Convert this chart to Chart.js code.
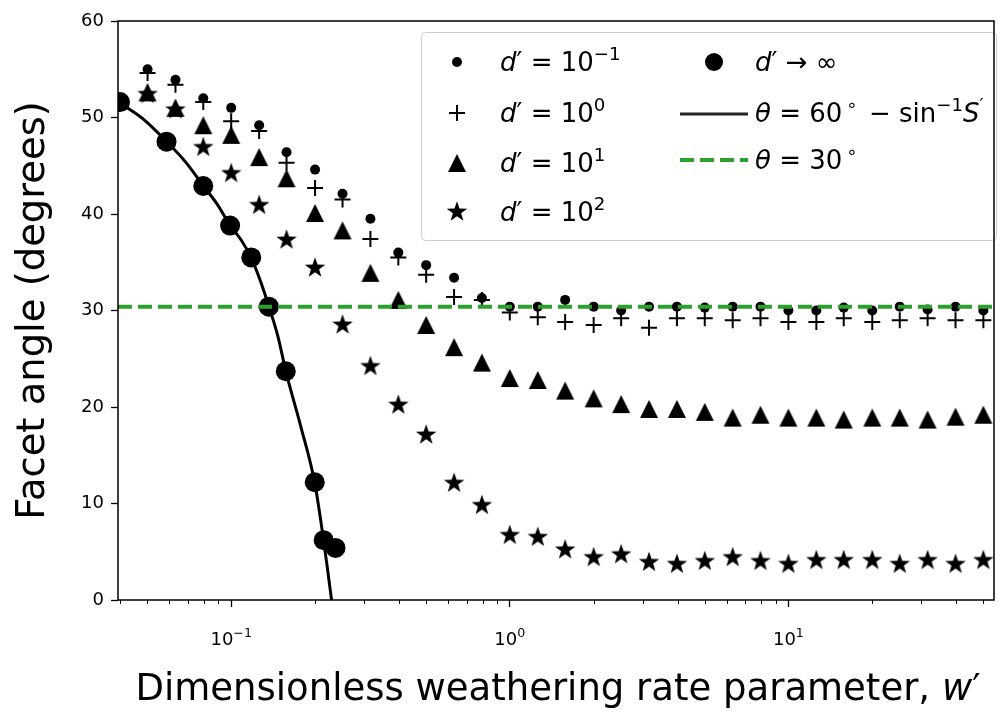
<!DOCTYPE html>
<html>
<head>
<meta charset="utf-8">
<title>Facet angle vs weathering rate</title>
<script src="https://cdn.jsdelivr.net/npm/chart.js@4.4.1/dist/chart.umd.min.js"></script>
<style>
  html, body { margin: 0; padding: 0; background: #ffffff; overflow: hidden; }
  .chart-box { width: 1005px; height: 713px; }
</style>
</head>
<body>
<div class="chart-box"><canvas class="facetChart" width="1005" height="713"></canvas></div>
<script>
// dimensionless weathering rate w' of the numerical runs
const wPrime = [0.0501, 0.0631, 0.0794, 0.1, 0.126, 0.158, 0.2, 0.251, 0.316, 0.398, 0.501,
  0.631, 0.794, 1, 1.26, 1.58, 2, 2.51, 3.16, 3.98, 5.01, 6.31, 7.94, 10, 12.6, 15.8, 20,
  25.1, 31.6, 39.8, 50.1];

// facet angle (degrees) for each d'
const thetaD01 = [55.0, 53.9, 52.0, 51.0, 49.2, 46.4, 44.6, 42.1, 39.5, 36.0, 34.7, 33.4, 31.3,
  30.4, 30.4, 31.1, 30.4, 30.0, 30.4, 30.4, 30.3, 30.4, 30.4, 30.0, 30.0, 30.3, 30.0, 30.4,
  30.1, 30.4, 30.0];
const thetaD1 = [54.6, 53.4, 51.6, 49.6, 48.6, 45.3, 42.7, 41.5, 37.4, 35.5, 33.7, 31.4, 31.1,
  29.8, 29.3, 28.8, 28.5, 29.2, 28.2, 29.2, 29.2, 29.0, 29.2, 28.8, 28.8, 29.2, 28.8, 29.0,
  29.2, 29.0, 29.0];
const thetaD10 = [52.6, 51.0, 49.2, 48.2, 45.9, 43.7, 40.1, 38.3, 33.9, 31.1, 28.5, 26.2, 24.6,
  23.0, 22.8, 21.7, 20.9, 20.3, 19.8, 19.8, 19.5, 18.9, 19.2, 18.9, 18.9, 18.7, 18.9, 18.9,
  18.7, 19.0, 19.2];
const thetaD100 = [52.4, 50.8, 46.9, 44.2, 40.9, 37.3, 34.4, 28.5, 24.2, 20.2, 17.1, 12.1, 9.8,
  6.7, 6.5, 5.2, 4.4, 4.7, 3.9, 3.7, 4.0, 4.4, 4.0, 3.7, 4.1, 4.1, 4.1, 3.7, 4.1, 3.7, 4.1];

// d' -> infinity
const wInf = [0.0399, 0.0586, 0.0794, 0.0991, 0.118, 0.1365, 0.157, 0.1995, 0.2148, 0.2368];
const thetaInf = [51.6, 47.5, 42.9, 38.8, 35.5, 30.4, 23.7, 12.2, 6.2, 5.4];

// theta = 60 - asin(S')
const curveW = [0.03924, 0.03988, 0.04895, 0.05866, 0.06855, 0.07947, 0.08916, 0.09918, 0.1086,
  0.1178, 0.1279, 0.1366, 0.1472, 0.1571, 0.1777, 0.1993, 0.2146, 0.2217, 0.2292];
const curveTheta = [51.8, 51.6, 49.7, 47.5, 45.4, 42.9, 41.0, 38.8, 37.3, 35.5, 32.9, 30.4,
  27.3, 23.7, 18.0, 12.2, 6.2, 3.2, 0];

// theta = 30 reference line
const refW = [0.03924, 54.7];
const refTheta = [30.4, 30.4];

const xMin = 0.03924, xMax = 54.7;
const xMajorTicks = [0.1, 1, 10];
const xMajorLabels = ['−1', '0', '1'];
const xMinorTicks = [0.04, 0.05, 0.06, 0.07, 0.08, 0.09, 0.2, 0.3, 0.4, 0.5, 0.6, 0.7, 0.8, 0.9,
  2, 3, 4, 5, 6, 7, 8, 9, 20, 30, 40, 50];
const yTicks = [0, 10, 20, 30, 40, 50, 60];

const FONT = '"DejaVu Sans", "Liberation Sans", sans-serif';

function pts(xs, ys) {
  return xs.map((x, i) => ({ x: x, y: ys[i] }));
}

function markerCanvas(size, draw) {
  const c = document.createElement('canvas');
  c.width = size;
  c.height = size;
  const g = c.getContext('2d');
  g.translate(size / 2, size / 2);
  g.fillStyle = '#000';
  draw(g);
  return c;
}

const triMarker = markerCanvas(22, g => {
  g.beginPath();
  g.moveTo(0, -9);
  g.lineTo(9, 9);
  g.lineTo(-9, 9);
  g.closePath();
  g.fill();
});

const starMarker = markerCanvas(24, g => {
  g.beginPath();
  for (let i = 0; i < 10; i++) {
    const r = i % 2 ? 4.3 : 10.8;
    const a = -Math.PI / 2 + i * Math.PI / 5;
    g.lineTo(r * Math.cos(a), r * Math.sin(a));
  }
  g.closePath();
  g.fill();
});

// small mathtext-like renderer: runs of {t, it, sup}
function runFont(r, size) {
  const s = r.sup ? size * 0.7 : size;
  return (r.it ? 'italic ' : '') + s + 'px ' + FONT;
}
function runsWidth(ctx, runs, size) {
  let w = 0;
  runs.forEach(r => {
    ctx.font = runFont(r, size);
    w += ctx.measureText(r.t).width + (r.dx || 0);
  });
  return w;
}
function drawRuns(ctx, runs, x, y, size, align) {
  let cx = align === 'center' ? x - runsWidth(ctx, runs, size) / 2 : x;
  ctx.textBaseline = 'alphabetic';
  ctx.textAlign = 'left';
  runs.forEach(r => {
    cx += r.dx || 0;
    ctx.font = runFont(r, size);
    ctx.fillText(r.t, cx, y - (r.sup ? size * 0.42 : 0));
    cx += ctx.measureText(r.t).width;
  });
}

const extrasPlugin = {
  id: 'extras',
  afterDatasetsDraw(chart) {
    const ctx = chart.ctx;
    ctx.save();
    // legend box
    ctx.beginPath();
    ctx.roundRect(421.5, 32.5, 575, 208, 4);
    ctx.fillStyle = 'rgba(255,255,255,0.8)';
    ctx.fill();
    ctx.strokeStyle = '#cccccc';
    ctx.lineWidth = 1;
    ctx.stroke();

    ctx.fillStyle = '#000';
    const rows = [62, 113, 163, 212];
    // column 1 handles
    ctx.beginPath(); ctx.arc(457, rows[0], 5, 0, Math.PI * 2); ctx.fill();
    ctx.strokeStyle = '#000';
    ctx.lineWidth = 2;
    ctx.beginPath();
    ctx.moveTo(449, rows[1]); ctx.lineTo(465, rows[1]);
    ctx.moveTo(457, rows[1] - 8); ctx.lineTo(457, rows[1] + 8);
    ctx.stroke();
    ctx.drawImage(triMarker, 457 - 11, rows[2] - 11);
    ctx.drawImage(starMarker, 457 - 12, rows[3] - 12);

    const ls = 26;
    const eq = { t: ' = 10' };
    drawRuns(ctx, [{ t: 'd', it: true }, { t: '′' }, eq, { t: '−1', sup: true }], 500, rows[0] + 9, ls);
    drawRuns(ctx, [{ t: 'd', it: true }, { t: '′' }, eq, { t: '0', sup: true }], 500, rows[1] + 9, ls);
    drawRuns(ctx, [{ t: 'd', it: true }, { t: '′' }, eq, { t: '1', sup: true }], 500, rows[2] + 9, ls);
    drawRuns(ctx, [{ t: 'd', it: true }, { t: '′' }, eq, { t: '2', sup: true }], 500, rows[3] + 9, ls);

    // column 2 handles
    ctx.beginPath(); ctx.arc(714, rows[0], 9, 0, Math.PI * 2); ctx.fill();
    ctx.strokeStyle = '#222';
    ctx.lineWidth = 3;
    ctx.beginPath(); ctx.moveTo(680, rows[1] + 1); ctx.lineTo(748, rows[1] + 1); ctx.stroke();
    ctx.strokeStyle = '#2ca02c';
    ctx.lineWidth = 4;
    ctx.setLineDash([14, 6]);
    ctx.beginPath(); ctx.moveTo(680, rows[2] - 3); ctx.lineTo(748, rows[2] - 3); ctx.stroke();
    ctx.setLineDash([]);

    drawRuns(ctx, [{ t: 'd', it: true }, { t: '′' }, { t: ' → ∞' }], 755, rows[0] + 9, ls);
    drawRuns(ctx, [{ t: 'θ', it: true }, { t: ' = 60' }, { t: '∘', sup: true, dx: 4 },
      { t: ' − sin', dx: 3 }, { t: '−1', sup: true }, { t: 'S', it: true }, { t: '′', sup: true }],
      755, rows[1] + 9, ls);
    drawRuns(ctx, [{ t: 'θ', it: true }, { t: ' = 30' }, { t: '∘', sup: true, dx: 4 }],
      755, rows[2] + 6, ls);
    ctx.restore();
  },
  afterDraw(chart) {
    const ctx = chart.ctx;
    const a = chart.chartArea;
    const xs = chart.scales.x;
    ctx.save();
    // spines
    ctx.strokeStyle = '#000';
    ctx.lineWidth = 1.5;
    ctx.strokeRect(a.left, a.top, a.right - a.left, a.bottom - a.top);
    // minor ticks
    ctx.lineWidth = 1;
    ctx.beginPath();
    xMinorTicks.forEach(v => {
      const px = Math.round(xs.getPixelForValue(v)) + 0.5;
      ctx.moveTo(px, a.bottom);
      ctx.lineTo(px, a.bottom + 4);
    });
    ctx.stroke();
    // x tick labels 10^n
    ctx.fillStyle = '#000';
    xMajorTicks.forEach((v, i) => {
      drawRuns(ctx, [{ t: '10' }, { t: xMajorLabels[i], sup: true }],
        xs.getPixelForValue(v), 645, 18, 'center');
    });
    // x axis title
    drawRuns(ctx, [{ t: 'Dimensionless weathering rate parameter, ' }, { t: 'w', it: true }, { t: '′' }],
      (a.left + a.right) / 2 + 2, 700, 37, 'center');
    ctx.restore();
  }
};

const ctx = document.querySelector('.facetChart').getContext('2d');
const facetChart = new Chart(ctx, {
  type: 'scatter',
  data: {
    datasets: [
      {
        label: 'θ = 30°',
        data: pts(refW, refTheta),
        showLine: true,
        borderColor: '#2ca02c',
        borderWidth: 4,
        borderDash: [14, 6],
        pointRadius: 0,
        clip: 0,
        order: 0,
      },
      {
        label: "θ = 60° − sin⁻¹S'",
        data: pts(curveW, curveTheta),
        showLine: true,
        borderColor: '#000',
        borderWidth: 3,
        cubicInterpolationMode: 'monotone',
        pointRadius: 0,
        clip: 0,
        order: 1,
      },
      {
        label: "d' → ∞",
        data: pts(wInf, thetaInf),
        pointStyle: 'circle',
        pointRadius: 10,
        pointBorderWidth: 0,
        backgroundColor: '#000',
        clip: 0,
        order: 2,
      },
      {
        label: "d' = 10²",
        data: pts(wPrime, thetaD100),
        pointStyle: starMarker,
        pointRadius: 10,
        clip: 0,
        order: 3,
      },
      {
        label: "d' = 10¹",
        data: pts(wPrime, thetaD10),
        pointStyle: triMarker,
        pointRadius: 9,
        clip: 0,
        order: 4,
      },
      {
        label: "d' = 10⁰",
        data: pts(wPrime, thetaD1),
        pointStyle: 'cross',
        pointRadius: 8,
        pointBorderWidth: 2,
        borderColor: '#000',
        clip: 0,
        order: 5,
      },
      {
        label: "d' = 10⁻¹",
        data: pts(wPrime, thetaD01),
        pointStyle: 'circle',
        pointRadius: 5,
        pointBorderWidth: 0,
        backgroundColor: '#000',
        clip: 0,
        order: 6,
      },
    ],
  },
  options: {
    responsive: false,
    devicePixelRatio: 1,
    animation: false,
    events: [],
    layout: { padding: { top: 21, right: 5, left: 0, bottom: 0 } },
    plugins: {
      legend: { display: false },
      tooltip: { enabled: false },
    },
    scales: {
      x: {
        type: 'logarithmic',
        min: xMin,
        max: xMax,
        afterBuildTicks: s => {
          s.ticks = xMajorTicks.map(v => ({ value: v, major: true }));
        },
        afterFit: s => { s.height = 113; },
        ticks: { autoSkip: false, maxRotation: 0, callback: () => '' },
        grid: {
          drawOnChartArea: false,
          drawTicks: true,
          tickLength: 7,
          tickWidth: 1.3,
          tickColor: '#000',
        },
        border: { display: false },
      },
      y: {
        type: 'linear',
        min: 0,
        max: 60,
        afterBuildTicks: s => {
          s.ticks = yTicks.map(v => ({ value: v }));
        },
        afterFit: s => { s.width = 118; },
        ticks: {
          color: '#000',
          padding: 7,
          font: { family: FONT, size: 18 },
        },
        grid: {
          drawOnChartArea: false,
          drawTicks: true,
          tickLength: 7,
          tickWidth: 1.3,
          tickColor: '#000',
        },
        border: { display: false },
        title: {
          display: true,
          text: 'Facet angle (degrees)',
          color: '#000',
          font: { family: FONT, size: 38.5 },
          padding: { top: 11, bottom: 0 },
        },
      },
    },
  },
  plugins: [extrasPlugin],
});
</script>
</body>
</html>
